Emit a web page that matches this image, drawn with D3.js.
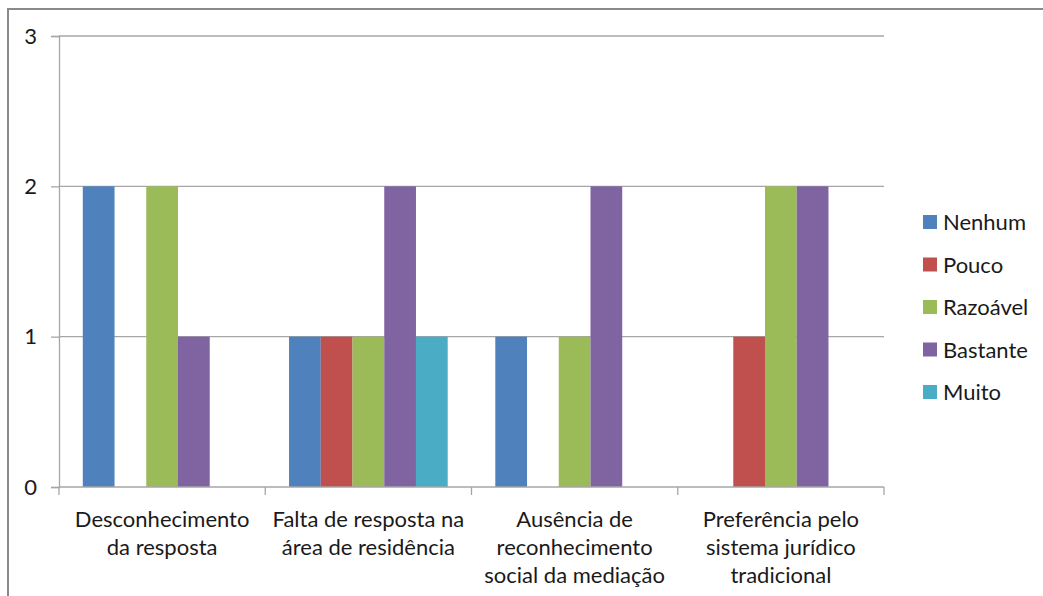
<!DOCTYPE html>
<html>
<head>
<meta charset="utf-8">
<script src="https://cdn.jsdelivr.net/npm/d3@7"></script>
<style>
  html, body { margin: 0; padding: 0; background: #fff; }
  svg text { font-family: Lato, "Open Sans", sans-serif; fill: #1a1a1a; }
</style>
</head>
<body>
<svg id="chart" width="1043" height="596"></svg>
<script>
// Categories (multi-line labels) and the rating series
const categories = [
  ["Desconhecimento", "da resposta"],
  ["Falta de resposta na", "área de residência"],
  ["Ausência de", "reconhecimento", "social da mediação"],
  ["Preferência pelo", "sistema jurídico", "tradicional"]
];
const seriesNames = ["Nenhum", "Pouco", "Razoável", "Bastante", "Muito"];
const nenhum   = [2, 1, 1, 0];
const pouco    = [0, 1, 0, 1];
const razoavel = [2, 1, 1, 2];
const bastante = [1, 2, 2, 2];
const muito    = [0, 1, 0, 0];
const yTicks = [0, 1, 2, 3];
const colors = ["#4F81BD", "#C0504D", "#9BBB59", "#8064A2", "#4BACC6"];

const seriesValues = [nenhum, pouco, razoavel, bastante, muito];
const fontSize = 22;

const svg = d3.select("#chart");

// outer chart frame
svg.append("rect")
  .attr("x", 8).attr("y", 9)
  .attr("width", 1060).attr("height", 620)
  .attr("fill", "none").attr("stroke", "#8a8a8a").attr("stroke-width", 2);

const plot = { left: 59, right: 884, top: 36, bottom: 487 };

const x0 = d3.scaleBand()
  .domain(d3.range(categories.length))
  .range([plot.left, plot.right])
  .paddingInner(0).paddingOuter(0);

// bars take 5 slots, gap of 1.5 slot split on both sides
const x1 = d3.scaleBand()
  .domain(seriesNames)
  .range([0, x0.bandwidth()])
  .paddingInner(0)
  .paddingOuter(0.75);

const y = d3.scaleLinear().domain([0, 3]).range([plot.bottom, plot.top]);

const gridColor = "#a6a6a6";

// horizontal gridlines
svg.append("g")
  .selectAll("line")
  .data(yTicks.filter(d => d > 0))
  .join("line")
  .attr("x1", plot.left).attr("x2", plot.right)
  .attr("y1", d => y(d)).attr("y2", d => y(d))
  .attr("stroke", gridColor).attr("stroke-width", 1.3);

// y axis
const yAxis = svg.append("g")
  .attr("transform", `translate(${plot.left},0)`)
  .call(d3.axisLeft(y).tickValues(yTicks).tickFormat(d3.format("d")).tickSize(8).tickPadding(14));
yAxis.select(".domain").attr("stroke", gridColor).attr("stroke-width", 1.3);
yAxis.selectAll(".tick line").attr("stroke", gridColor).attr("stroke-width", 1.3);
yAxis.selectAll("text").attr("font-size", fontSize).attr("fill", "#1a1a1a")
  .attr("font-family", "Lato, 'Open Sans', sans-serif");

// bars
const groups = svg.append("g")
  .selectAll("g")
  .data(categories.map((c, i) => i))
  .join("g")
  .attr("transform", i => `translate(${x0(i)},0)`);

groups.selectAll("rect")
  .data(i => seriesNames.map((s, k) => ({ s, k, v: seriesValues[k][i] })).filter(d => d.v > 0))
  .join("rect")
  .attr("x", d => x1(d.s))
  .attr("width", x1.bandwidth())
  .attr("y", d => y(d.v))
  .attr("height", d => y(0) - y(d.v))
  .attr("fill", d => colors[d.k]);

// x axis
const xAxis = svg.append("g")
  .attr("transform", `translate(0,${plot.bottom})`);
xAxis.append("line")
  .attr("x1", plot.left).attr("x2", plot.right)
  .attr("stroke", gridColor).attr("stroke-width", 1.3);
xAxis.selectAll("line.tick")
  .data(d3.range(categories.length + 1))
  .join("line")
  .attr("class", "tick")
  .attr("x1", i => i < categories.length ? x0(i) : plot.right)
  .attr("x2", i => i < categories.length ? x0(i) : plot.right)
  .attr("y1", 0).attr("y2", 8)
  .attr("stroke", gridColor).attr("stroke-width", 1.3);

// category labels
svg.append("g")
  .selectAll("text")
  .data(categories.map((c, i) => ({ c, i })))
  .join("text")
  .attr("text-anchor", "middle")
  .attr("font-size", fontSize)
  .attr("x", d => x0(d.i) + x0.bandwidth() / 2)
  .attr("y", 527)
  .selectAll("tspan")
  .data(d => d.c.map((line, j) => ({ line, j, x: x0(d.i) + x0.bandwidth() / 2 })))
  .join("tspan")
  .attr("x", d => d.x)
  .attr("dy", d => d.j === 0 ? 0 : 28)
  .text(d => d.line);

// legend
const legend = svg.append("g")
  .selectAll("g")
  .data(seriesNames.map((s, k) => ({ s, k })))
  .join("g")
  .attr("transform", d => `translate(923,${222 + d.k * 42.5})`);
legend.append("rect")
  .attr("x", 0).attr("y", -7).attr("width", 14).attr("height", 14)
  .attr("fill", d => colors[d.k]);
legend.append("text")
  .attr("x", 20).attr("y", 8)
  .attr("font-size", fontSize)
  .text(d => d.s);
</script>
</body>
</html>
